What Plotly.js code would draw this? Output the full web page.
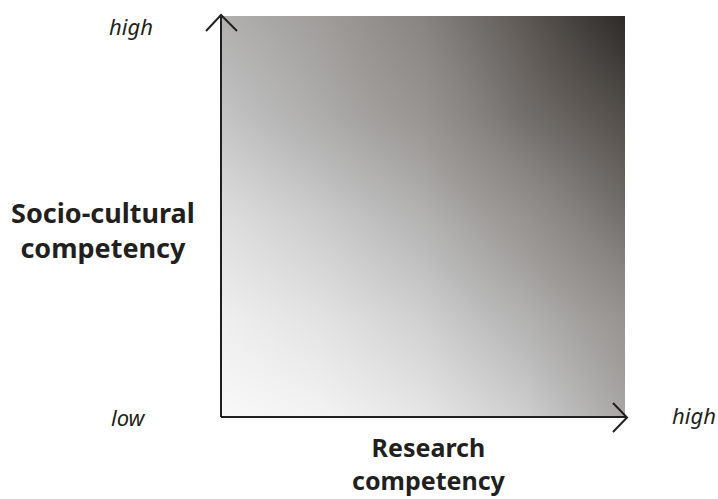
<!DOCTYPE html>
<html>
<head>
<meta charset="utf-8">
<script src="https://cdn.plot.ly/plotly-3.0.1.min.js"></script>
<style>html,body{margin:0;padding:0;background:#fff;}#chart{width:718px;height:499px;}</style>
</head>
<body>
<div id="chart"></div>
<script>
// Research competency levels (x, low -> high)
const researchLevels = [0, 1, 2, 3, 4];
// Socio-cultural competency levels (y, low -> high)
const socioLevels = [0, 1, 2, 3, 4];
// Shade lightness (rows: socio low -> high, cols: research low -> high)
const shade = [
  [252, 246, 234, 212, 172],
  [242, 230, 212, 184, 150],
  [226, 208, 185, 150, 105],
  [202, 178, 152, 105, 68],
  [182, 162, 128, 80, 22]
];
const axisLabels = {low: "low", high: "high"};
const xTitle = "Research<br>competency";
const yTitle = "Socio-cultural<br>competency";

const ink = "#231f20";

const trace = {
  type: "heatmap",
  x: researchLevels,
  y: socioLevels,
  z: shade,
  zmin: 0, zmax: 255,
  zsmooth: "best",
  showscale: false,
  hoverinfo: "skip",
  colorscale: [
    [0.0, "#1a1816"],
    [0.3, "#5a5551"],
    [0.5, "#878380"],
    [0.62, "#9c9996"],
    [0.75, "#b9b9b9"],
    [0.88, "#dcdcdc"],
    [1.0, "#fcfcfc"]
  ]
};

const lineStyle = {color: ink, width: 2};
const shapes = [
  {type: "line", xref: "paper", yref: "paper", x0: 0, y0: 0, x1: 0, y1: 1.0025, line: lineStyle},
  {type: "line", xref: "paper", yref: "paper", x0: 0, y0: 0, x1: 1.005, y1: 0, line: lineStyle},
  {type: "path", xref: "paper", yref: "paper", path: "M -0.0371 0.9626 L 0 1.0025 L 0.0396 0.9626", line: lineStyle},
  {type: "path", xref: "paper", yref: "paper", path: "M 0.9703 0.0349 L 1.005 -0.0012 L 0.9703 -0.0374", line: lineStyle}
];

const italic = {family: "'Noto Sans', Lato, sans-serif", size: 22, color: ink, style: "italic"};
const bold = {family: "'Noto Sans', Lato, sans-serif", size: 27, color: ink, weight: "bold"};
const boldX = {family: "'Noto Sans', Lato, sans-serif", size: 25, color: ink, weight: "bold"};

const annotations = [
  {xref: "paper", yref: "paper", x: -0.223, y: 0.975, text: axisLabels.high, showarrow: false, font: italic, xanchor: "center", yanchor: "middle"},
  {xref: "paper", yref: "paper", x: -0.228, y: 0.0, text: axisLabels.low, showarrow: false, font: italic, xanchor: "center", yanchor: "middle"},
  {xref: "paper", yref: "paper", x: 1.171, y: 0.005, text: axisLabels.high, showarrow: false, font: italic, xanchor: "center", yanchor: "middle"},
  {xref: "paper", yref: "paper", x: -0.292, y: 0.466, text: yTitle, showarrow: false, font: bold, xanchor: "center", yanchor: "middle", align: "center"},
  {xref: "paper", yref: "paper", x: 0.515, y: -0.117, text: xTitle, showarrow: false, font: boldX, xanchor: "center", yanchor: "middle", align: "center", borderpad: 0}
];

const layout = {
  width: 718, height: 499,
  margin: {l: 221, r: 93, t: 16, b: 82, pad: 0},
  paper_bgcolor: "#ffffff", plot_bgcolor: "#ffffff",
  xaxis: {range: [0, 4], showgrid: false, zeroline: false, showticklabels: false, ticks: "", showline: false, fixedrange: true},
  yaxis: {range: [0, 4], showgrid: false, zeroline: false, showticklabels: false, ticks: "", showline: false, fixedrange: true},
  shapes: shapes,
  annotations: annotations,
  showlegend: false
};

Plotly.newPlot("chart", [trace], layout, {displayModeBar: false, staticPlot: true});
</script>
</body>
</html>
